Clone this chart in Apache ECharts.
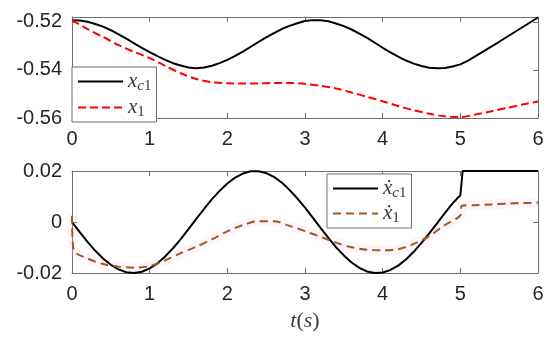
<!DOCTYPE html>
<html>
<head>
<meta charset="utf-8">
<script src="https://cdn.jsdelivr.net/npm/echarts@6/dist/echarts.min.js"></script>
<style>
html,body{margin:0;padding:0;background:#fff;}
#c{width:550px;height:343px;}
</style>
</head>
<body>
<div id="c"></div>
<script>
// ---------- data ----------
var xTicks = [0, 1, 2, 3, 4, 5, 6];
var topYTicks = [-0.56, -0.54, -0.52];
var botYTicks = [-0.02, 0, 0.02];

// top panel: x_c1 (black solid)
var xc1T = [0,0.1,0.2,0.3,0.4,0.5,0.6,0.7,0.8,0.9,1.0,1.1,1.2,1.3,1.4,1.5,1.6,1.7,1.8,1.9,2.0,2.1,2.2,2.3,2.4,2.5,2.6,2.7,2.8,2.9,3.0,3.1,3.2,3.3,3.4,3.5,3.6,3.7,3.8,3.9,4.0,4.1,4.2,4.3,4.4,4.5,4.6,4.7,4.8,4.9,5.0,5.1,5.5,6.0];
var xc1V = [-0.5193,-0.5195,-0.5200,-0.5209,-0.5220,-0.5235,-0.5252,-0.5270,-0.5290,-0.5308,-0.5326,-0.5343,-0.5358,-0.5372,-0.5382,-0.5390,-0.5393,-0.5390,-0.5383,-0.5372,-0.5358,-0.5342,-0.5324,-0.5304,-0.5284,-0.5265,-0.5247,-0.5230,-0.5217,-0.5206,-0.5197,-0.5193,-0.5194,-0.5198,-0.5207,-0.5218,-0.5232,-0.5249,-0.5267,-0.5287,-0.5308,-0.5327,-0.5345,-0.5361,-0.5374,-0.5384,-0.5391,-0.5393,-0.5392,-0.5386,-0.5377,-0.5361,-0.5283,-0.5182];

// top panel: x_1 (red dashed)
var x1T = [0,0.2,0.4,0.6,0.8,1.0,1.2,1.4,1.6,1.8,2.0,2.2,2.4,2.6,2.8,3.0,3.2,3.4,3.6,3.8,4.0,4.2,4.4,4.6,4.8,5.0,5.2,5.4,5.6,5.8,6.0];
var x1V = [-0.5193,-0.5230,-0.5263,-0.5297,-0.5325,-0.5351,-0.5383,-0.5414,-0.5438,-0.5451,-0.5456,-0.5457,-0.5456,-0.5454,-0.5454,-0.5458,-0.5466,-0.5477,-0.5494,-0.5512,-0.5530,-0.5550,-0.5568,-0.5582,-0.5593,-0.5596,-0.5585,-0.5572,-0.5558,-0.5544,-0.5531];

// bottom panel: x_c1 dot (black solid)
var xc1dT = [0,0.1,0.2,0.3,0.4,0.5,0.6,0.7,0.8,0.9,1.0,1.1,1.2,1.3,1.4,1.5,1.6,1.7,1.8,1.9,2.0,2.1,2.2,2.3,2.4,2.5,2.6,2.7,2.8,2.9,3.0,3.1,3.2,3.3,3.4,3.5,3.6,3.7,3.8,3.9,4.0,4.1,4.2,4.3,4.4,4.5,4.6,4.7,4.8,4.9,5.0,5.03,6.0];
var xc1dV = [0,-0.0040,-0.0078,-0.0113,-0.0143,-0.0168,-0.0186,-0.0197,-0.0200,-0.0195,-0.0182,-0.0162,-0.0135,-0.0103,-0.0067,-0.0028,0.0012,0.0051,0.0089,0.0122,0.0151,0.0174,0.0190,0.0199,0.0199,0.0192,0.0177,0.0155,0.0126,0.0093,0.0056,0.0017,-0.0023,-0.0062,-0.0099,-0.0131,-0.0159,-0.0180,-0.0194,-0.0200,-0.0198,-0.0188,-0.0171,-0.0147,-0.0117,-0.0082,-0.0045,-0.0005,0.0035,0.0073,0.0105,0.0200,0.0200];

// bottom panel: x_1 dot (brown dashed)
var x1dT = [0,0.02,0.2,0.4,0.6,0.8,1.0,1.2,1.4,1.6,1.8,2.0,2.2,2.4,2.6,2.8,3.0,3.2,3.4,3.6,3.8,4.0,4.2,4.4,4.6,4.8,5.0,5.02,5.2,5.4,5.6,5.8,6.0];
var x1dV = [0.0025,-0.0110,-0.0143,-0.0165,-0.0175,-0.0179,-0.0173,-0.0150,-0.0122,-0.0097,-0.0068,-0.0037,-0.0012,0.0003,0.0003,-0.0015,-0.0036,-0.0058,-0.0081,-0.0099,-0.0109,-0.0111,-0.0107,-0.0086,-0.0055,-0.0012,0.0026,0.0064,0.0066,0.0069,0.0072,0.0074,0.0076];

function pairs(t, v) { return t.map(function (x, i) { return [x, v[i]]; }); }

// ---------- styles ----------
var AX = '#6e6e6e';
var LBL = '#262626';
var TICKFONT = {fontFamily: 'Liberation Sans', fontSize: 20, color: LBL};

function xAx(grid, pos, labels) {
  return {
    type: 'value', gridIndex: grid, position: pos, min: 0, max: 6, interval: 1,
    axisLine: {show: true, onZero: false, lineStyle: {color: AX, width: 1}},
    axisTick: {show: true, inside: true, length: 5, lineStyle: {color: AX}},
    splitLine: {show: false},
    axisLabel: labels ? Object.assign({show: true, margin: 11, formatter: function (v) { return xTicks.indexOf(v) >= 0 ? String(v) : ''; }}, TICKFONT) : {show: false}
  };
}
function yAx(grid, pos, min, max, labels, fmt, hideMax) {
  return {
    type: 'value', gridIndex: grid, position: pos, min: min, max: max, interval: 0.02,
    axisLine: {show: true, onZero: false, lineStyle: {color: AX, width: 1}},
    axisTick: {show: true, inside: true, length: 5, lineStyle: {color: AX}},
    splitLine: {show: false},
    axisLabel: labels ? Object.assign({show: true, margin: 10, showMaxLabel: !hideMax, showMinLabel: true, formatter: fmt}, TICKFONT) : {show: false}
  };
}
function topFmt(v) {
  for (var i = 0; i < topYTicks.length; i++) if (Math.abs(v - topYTicks[i]) < 1e-6) return topYTicks[i].toFixed(2);
  return '';
}
function botFmt(v) {
  for (var i = 0; i < botYTicks.length; i++) if (Math.abs(v - botYTicks[i]) < 1e-6) return botYTicks[i] === 0 ? '0' : botYTicks[i].toFixed(2);
  return '';
}

var TXT = '#3a3a3a';
var rich = {
  x: {fontFamily: 'Liberation Serif', fontStyle: 'italic', fontSize: 21, lineHeight: 24, color: TXT},
  d: {fontFamily: 'Liberation Serif, DejaVu Serif', fontStyle: 'italic', fontSize: 21, lineHeight: 24, color: TXT},
  s: {fontFamily: 'Liberation Serif', fontStyle: 'italic', fontSize: 15, lineHeight: 15, padding: [10, 0, 0, 0], color: TXT},
  n: {fontFamily: 'Liberation Serif', fontSize: 15, lineHeight: 15, padding: [10, 0, 0, 0], color: TXT}
};
var legendText = {
  'xc1': '{x|x}{s|c}{n|1}',
  'x1': '{x|x}{n|1}',
  'xc1dot': '{d|\u1E8B}{s|c}{n|1}',
  'x1dot': '{d|\u1E8B}{n|1}'
};

var legendBase = {
  orient: 'vertical',
  backgroundColor: '#fff', borderColor: AX, borderWidth: 1, borderRadius: 0,
  padding: [2, 5, 2, 5], itemWidth: 45, itemHeight: 14,
  itemStyle: {opacity: 0},
  formatter: function (n) { return legendText[n]; },
  textStyle: {rich: rich}
};

var chart = echarts.init(document.getElementById('c'), null, {renderer: 'canvas'});
chart.setOption({
  animation: false,
  backgroundColor: '#fff',
  grid: [
    {left: 72, right: 12, top: 17, height: 101, show: false},
    {left: 72, right: 12, top: 171, height: 102, show: false}
  ],
  xAxis: [
    xAx(0, 'bottom', true),
    xAx(0, 'top', false),
    Object.assign(xAx(1, 'bottom', true), {
      name: '{i|t}{p|(}{i|s}{p|)}', nameLocation: 'middle', nameGap: 37,
      nameTextStyle: {rich: {
        i: {fontFamily: 'Liberation Serif', fontStyle: 'italic', fontSize: 22, color: TXT},
        p: {fontFamily: 'Liberation Serif', fontSize: 22, color: TXT}
      }}
    }),
    xAx(1, 'top', false)
  ],
  yAxis: [
    yAx(0, 'left', -0.56, -0.518, true, topFmt, true),
    yAx(0, 'right', -0.56, -0.518, false),
    yAx(1, 'left', -0.02, 0.02, true, botFmt, false),
    yAx(1, 'right', -0.02, 0.02, false)
  ],
  legend: [
    Object.assign({}, legendBase, {data: ['xc1', 'x1'], left: 72, top: 67, itemGap: 1}),
    Object.assign({}, legendBase, {data: ['xc1dot', 'x1dot'], left: 327, top: 174, itemGap: 0})
  ],
  series: [
    {name: 'xc1', type: 'line', xAxisIndex: 0, yAxisIndex: 0, data: pairs(xc1T, xc1V),
     symbol: 'none', lineStyle: {color: '#000', width: 2}, itemStyle: {color: '#000'}, z: 3},
    {name: 'x1', type: 'line', xAxisIndex: 0, yAxisIndex: 0, data: pairs(x1T, x1V), smooth: 0.3,
     symbol: 'none', lineStyle: {color: '#ff0000', width: 2, type: [8, 4]}, itemStyle: {color: '#ff0000'}, z: 4},
    {name: 'x1band', type: 'line', xAxisIndex: 2, yAxisIndex: 2, data: pairs(x1dT, x1dV), smooth: 0.3,
     symbol: 'none', silent: true, lineStyle: {color: 'rgba(250,205,238,0.22)', width: 10}, z: 1},
    {name: 'xc1dot', type: 'line', xAxisIndex: 2, yAxisIndex: 2, data: pairs(xc1dT, xc1dV),
     symbol: 'none', lineStyle: {color: '#000', width: 2}, itemStyle: {color: '#000'}, z: 3},
    {name: 'x1dot', type: 'line', xAxisIndex: 2, yAxisIndex: 2, data: pairs(x1dT, x1dV), smooth: 0.3,
     symbol: 'none', lineStyle: {color: '#9a5b20', width: 2, type: [8, 5]}, itemStyle: {color: '#9a5b20'}, z: 4}
  ]
});
</script>
</body>
</html>
